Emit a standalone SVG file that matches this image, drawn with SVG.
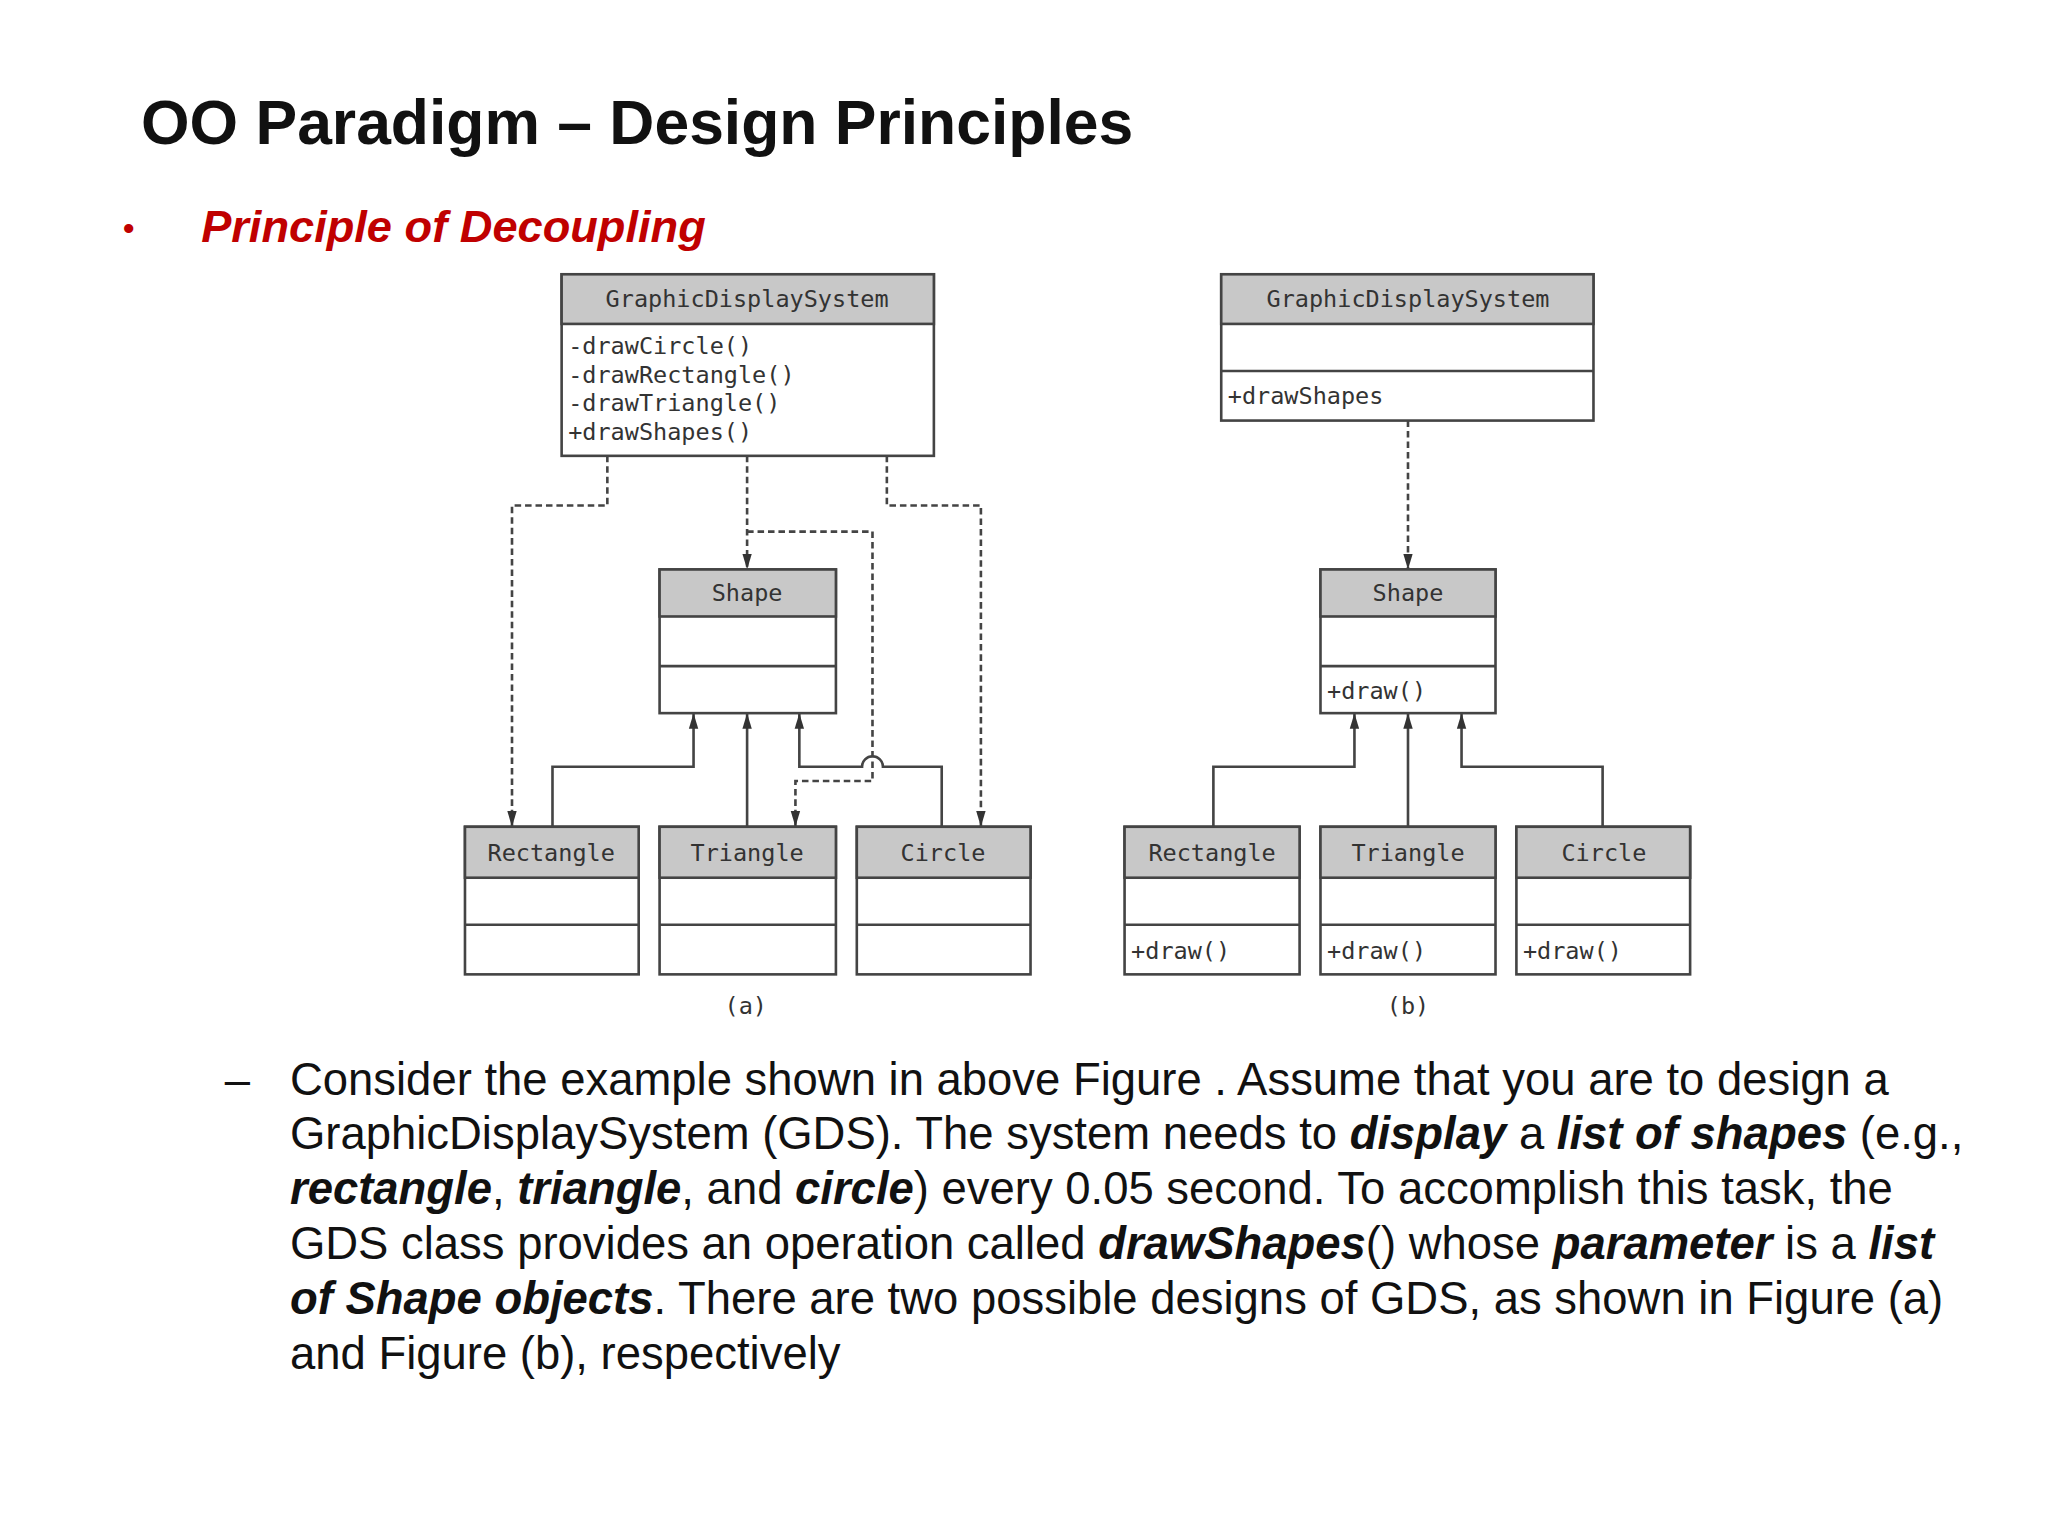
<svg xmlns="http://www.w3.org/2000/svg" width="2048" height="1536" viewBox="0 0 2048 1536">
<style>
.box{fill:#fff;stroke:#444;stroke-width:2}
.hd{fill:#c8c8c8;stroke:#444;stroke-width:2}
.ln{stroke:#444;stroke-width:2}
.t{font-family:"DejaVu Sans Mono",monospace;font-size:18px;fill:#333}
.c{text-anchor:middle}
.dash{fill:none;stroke:#444;stroke-width:2;stroke-dasharray:5,3}
.sol{fill:none;stroke:#444;stroke-width:2}
.body{font-family:"Liberation Sans",Arial,sans-serif;font-size:34.8px;fill:#111}
.bi{font-weight:bold;font-style:italic}
</style>
<defs>
<marker id="ah2" viewBox="0 0 10 10" refX="10" refY="5" markerWidth="12" markerHeight="12" orient="auto" markerUnits="userSpaceOnUse">
<path d="M0,2 L10,5 L0,8 z" fill="#333"/>
</marker>
</defs>
<rect width="2048" height="1536" fill="#fff"/>
<g transform="scale(1.30612)">
<text x="108" y="110" font-family="Liberation Sans,Arial,sans-serif" font-size="47.8" font-weight="bold" fill="#111">OO Paradigm – Design Principles</text>
<text x="94" y="184" font-family="Liberation Sans,Arial,sans-serif" font-size="26" fill="#c00000">•</text>
<text x="154" y="185" font-family="Liberation Sans,Arial,sans-serif" font-size="34.6" font-weight="bold" font-style="italic" fill="#c00000">Principle of Decoupling</text>

<g id="connectors">
<path class="dash" marker-end="url(#ah2)" d="M465,349 V387 H392 V633"/>
<path class="dash" marker-end="url(#ah2)" d="M572,349 V436"/>
<path class="dash" marker-end="url(#ah2)" d="M572,407 H668 V598 H609 V633"/>
<path class="dash" marker-end="url(#ah2)" d="M679,349 V387 H751 V633"/>
<path class="sol" marker-end="url(#ah2)" d="M423,633 V587 H531 V546"/>
<path class="sol" marker-end="url(#ah2)" d="M572,633 V546"/>
<path class="sol" marker-end="url(#ah2)" d="M721,633 V587 H676 A8,8 0 0 0 660,587 H612 V546"/>
<path class="dash" marker-end="url(#ah2)" d="M1078,322 V436"/>
<path class="sol" marker-end="url(#ah2)" d="M929,633 V587 H1037 V546"/>
<path class="sol" marker-end="url(#ah2)" d="M1078,633 V546"/>
<path class="sol" marker-end="url(#ah2)" d="M1227,633 V587 H1119 V546"/>
</g>

<g id="gdsA">
<rect class="box" x="430" y="210" width="285" height="139"/>
<rect class="hd" x="430" y="210" width="285" height="38"/>
<text class="t c" x="572" y="235">GraphicDisplaySystem</text>
<text class="t" x="435" y="271">-drawCircle()</text>
<text class="t" x="435" y="293">-drawRectangle()</text>
<text class="t" x="435" y="315">-drawTriangle()</text>
<text class="t" x="435" y="337">+drawShapes()</text>
</g>
<g id="shapeA">
<rect class="box" x="505" y="436" width="135" height="110"/>
<rect class="hd" x="505" y="436" width="135" height="36"/>
<line class="ln" x1="505" y1="510" x2="640" y2="510"/>
<text class="t c" x="572" y="460">Shape</text>
</g>
<g id="rectA">
<rect class="box" x="356" y="633" width="133" height="113"/>
<rect class="hd" x="356" y="633" width="133" height="39"/>
<line class="ln" x1="356" y1="708" x2="489" y2="708"/>
<text class="t c" x="422" y="659">Rectangle</text>
</g>
<g id="triA">
<rect class="box" x="505" y="633" width="135" height="113"/>
<rect class="hd" x="505" y="633" width="135" height="39"/>
<line class="ln" x1="505" y1="708" x2="640" y2="708"/>
<text class="t c" x="572" y="659">Triangle</text>
</g>
<g id="circA">
<rect class="box" x="656" y="633" width="133" height="113"/>
<rect class="hd" x="656" y="633" width="133" height="39"/>
<line class="ln" x1="656" y1="708" x2="789" y2="708"/>
<text class="t c" x="722" y="659">Circle</text>
</g>
<text class="t c" x="571" y="776" font-size="15">(a)</text>

<g id="gdsB">
<rect class="box" x="935" y="210" width="285" height="112"/>
<rect class="hd" x="935" y="210" width="285" height="38"/>
<line class="ln" x1="935" y1="284" x2="1220" y2="284"/>
<text class="t c" x="1078" y="235">GraphicDisplaySystem</text>
<text class="t" x="940" y="309">+drawShapes</text>
</g>
<g id="shapeB">
<rect class="box" x="1011" y="436" width="134" height="110"/>
<rect class="hd" x="1011" y="436" width="134" height="36"/>
<line class="ln" x1="1011" y1="510" x2="1145" y2="510"/>
<text class="t c" x="1078" y="460">Shape</text>
<text class="t" x="1016" y="535">+draw()</text>
</g>
<g id="rectB">
<rect class="box" x="861" y="633" width="134" height="113"/>
<rect class="hd" x="861" y="633" width="134" height="39"/>
<line class="ln" x1="861" y1="708" x2="995" y2="708"/>
<text class="t c" x="928" y="659">Rectangle</text>
<text class="t" x="866" y="734">+draw()</text>
</g>
<g id="triB">
<rect class="box" x="1011" y="633" width="134" height="113"/>
<rect class="hd" x="1011" y="633" width="134" height="39"/>
<line class="ln" x1="1011" y1="708" x2="1145" y2="708"/>
<text class="t c" x="1078" y="659">Triangle</text>
<text class="t" x="1016" y="734">+draw()</text>
</g>
<g id="circB">
<rect class="box" x="1161" y="633" width="133" height="113"/>
<rect class="hd" x="1161" y="633" width="133" height="39"/>
<line class="ln" x1="1161" y1="708" x2="1294" y2="708"/>
<text class="t c" x="1228" y="659">Circle</text>
<text class="t" x="1166" y="734">+draw()</text>
</g>
<text class="t c" x="1078" y="776" font-size="15">(b)</text>

<text class="body" x="172" y="838">–</text>
<text class="body" x="222" y="838">Consider the example shown in above Figure . Assume that you are to design a</text>
<text class="body" x="222" y="880">GraphicDisplaySystem (GDS). The system needs to <tspan class="bi">display</tspan> a <tspan class="bi">list of shapes</tspan> (e.g.,</text>
<text class="body" x="222" y="922"><tspan class="bi">rectangle</tspan>, <tspan class="bi">triangle</tspan>, and <tspan class="bi">circle</tspan>) every 0.05 second. To accomplish this task, the</text>
<text class="body" x="222" y="964">GDS class provides an operation called <tspan class="bi">drawShapes</tspan>() whose <tspan class="bi">parameter</tspan> is a <tspan class="bi">list</tspan></text>
<text class="body" x="222" y="1006"><tspan class="bi">of Shape objects</tspan>. There are two possible designs of GDS, as shown in Figure (a)</text>
<text class="body" x="222" y="1048">and Figure (b), respectively</text>
</g>
</svg>
